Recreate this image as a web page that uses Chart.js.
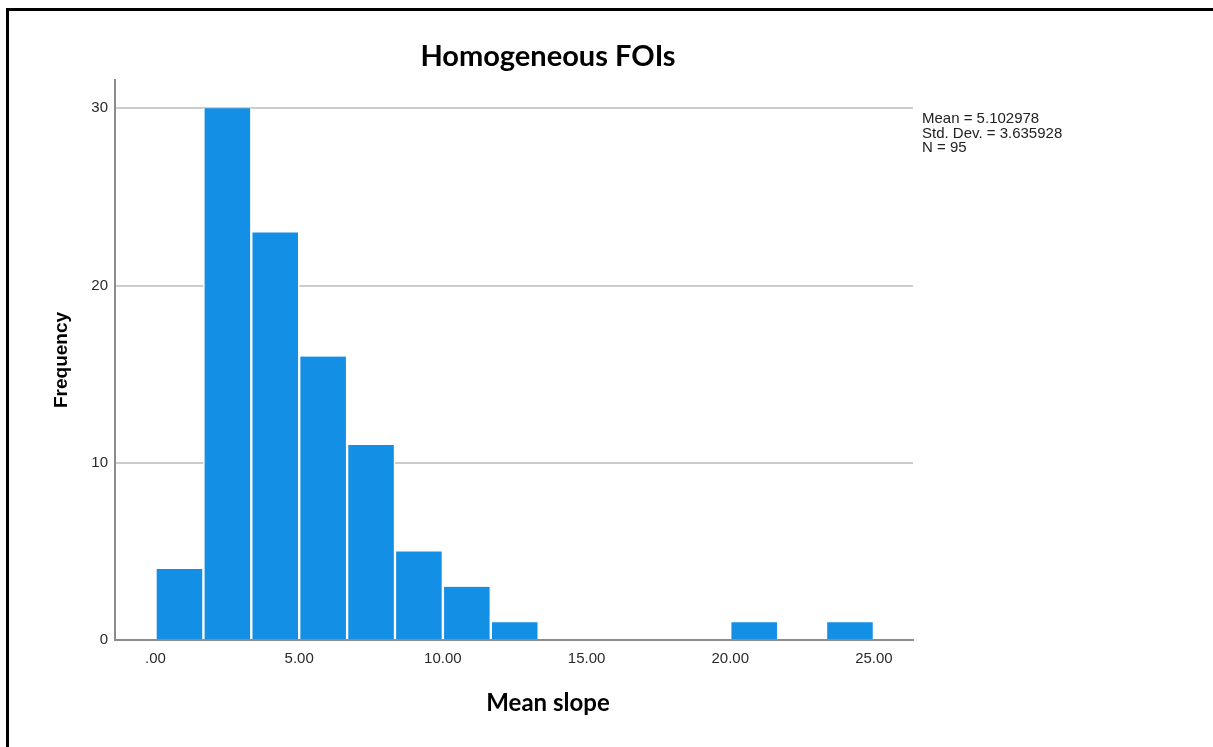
<!DOCTYPE html>
<html>
<head>
<meta charset="utf-8">
<script src="https://cdn.jsdelivr.net/npm/chart.js@4.4.1/dist/chart.umd.min.js"></script>
<style>
  body { margin: 0; background: #fff; }
  #wrap { position: relative; width: 1213px; height: 747px; overflow: hidden; }
  #frame { position: absolute; left: 6px; top: 8px; width: 1300px; height: 800px;
           border-top: 3px solid #000; border-left: 3px solid #000; pointer-events: none; }
</style>
</head>
<body>
<div id="wrap">
  <canvas id="grafica" width="1213" height="747"></canvas>
  <div id="frame"></div>
</div>
<script>
// Histograma: inicio de cada intervalo y frecuencias
const binStarts = [0, 1.667, 3.333, 5, 6.667, 8.333, 10, 11.667, 13.333, 15, 16.667, 18.333, 20, 21.667, 23.333];
const binWidth = 1.667;
const frequencies = [4, 30, 23, 16, 11, 5, 3, 1, 0, 0, 0, 0, 1, 0, 1];
const yTicks = [0, 10, 20, 30];
const statsLines = ["Mean = 5.102978", "Std. Dev. = 3.635928", "N = 95"];
const titulo = "Homogeneous FOIs";
const tituloX = "Mean slope";

const puntos = binStarts.map((s, i) => ({x: s + binWidth / 2, y: frequencies[i]}));

// títulos y texto de estadísticos (centrados como en el original, no sobre el área)
const textosPlugin = {
    id: 'textos',
    afterDraw(chart) {
        const ctx = chart.ctx;
        const area = chart.chartArea;
        ctx.save();
        ctx.fillStyle = '#000';
        ctx.textAlign = 'center';
        ctx.textBaseline = 'middle';
        ctx.font = 'bold 29px Lato, sans-serif';
        ctx.fillText(titulo, 548, 57);
        ctx.font = 'bold 24px Lato, sans-serif';
        ctx.fillText(tituloX, 548, 703);

        ctx.textAlign = 'left';
        ctx.textBaseline = 'alphabetic';
        ctx.font = '15px "Liberation Sans", Arial, sans-serif';
        ctx.fillStyle = '#222';
        statsLines.forEach((t, i) => ctx.fillText(t, area.right + 9, 123 + i * 14.5));
        ctx.restore();
    }
};

const ctx = document.getElementById('grafica').getContext('2d');
new Chart(ctx, {
    type: 'bar',
    data: {
        datasets: [{
            label: 'Frequency',
            data: puntos,
            backgroundColor: '#138fe6',
            borderColor: '#ffffff',
            borderWidth: {left: 1.5, right: 1.5, top: 0, bottom: 0},
            borderSkipped: false,
            categoryPercentage: 1,
            barPercentage: 1
        }]
    },
    options: {
        responsive: false,
        animation: false,
        layout: { padding: {left: 0, right: 300, top: 80, bottom: 0} },
        plugins: {
            legend: { display: false },
            tooltip: { enabled: false },
            title: { display: false }
        },
        scales: {
            x: {
                type: 'linear',
                offset: false,
                min: -1.41,
                max: 26.36,
                afterFit: s => { s.height = 107; },
                ticks: {
                    stepSize: 5,
                    includeBounds: false,
                    color: '#2a2a2a',
                    padding: 10,
                    font: { family: '"Liberation Sans"', size: 15 },
                    callback: v => v === 0 ? '.00' : v.toFixed(2)
                },
                grid: { display: false, drawTicks: false },
                border: { color: '#8c8c8c', width: 2 }
            },
            y: {
                min: 0,
                max: 31.6,
                afterFit: s => { s.width = 115; },
                afterBuildTicks: s => { s.ticks = yTicks.map(v => ({value: v})); },
                ticks: {
                    color: '#2a2a2a',
                    padding: 7,
                    font: { family: '"Liberation Sans"', size: 15 }
                },
                grid: {
                    drawTicks: false,
                    lineWidth: 2,
                    color: c => c.tick && c.tick.value === 0 ? 'rgba(0,0,0,0)' : '#cccccc'
                },
                border: { color: '#8c8c8c', width: 2 },
                title: {
                    display: true,
                    text: 'Frequency',
                    color: '#000',
                    font: { family: '"Liberation Sans"', size: 19, weight: 'bold' },
                    padding: { top: 50, bottom: 0 }
                }
            }
        }
    },
    plugins: [textosPlugin]
});
</script>
</body>
</html>
